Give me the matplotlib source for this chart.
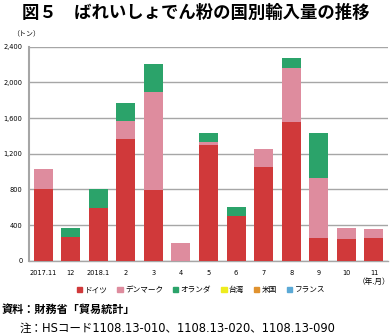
import numpy as np
import matplotlib
matplotlib.use('Agg')
import matplotlib.pyplot as plt
from matplotlib.patches import Patch

plt.rcParams['font.family'] = ['Noto Sans CJK JP', 'DejaVu Sans']

months = ['2017.11', '12', '2018.1', '2', '3', '4', '5', '6', '7', '8', '9', '10', '11']
countries = ['ドイツ', 'デンマーク', 'オランダ', '台湾', '米国', 'フランス']
germany = [805, 265, 590, 1360, 795, 0, 1300, 502, 1055, 1560, 250, 245, 250]
denmark = [225, 0, 0, 205, 1100, 200, 35, 0, 200, 605, 676, 122, 106]
netherlands = [0, 100, 210, 200, 307, 0, 100, 97, 0, 105, 504, 0, 0]
taiwan = [0, 0, 0, 0, 8, 0, 0, 5, 0, 0, 0, 0, 0]
usa = [0] * 13
france = [0] * 13
yticks = [0, 400, 800, 1200, 1600, 2000, 2400]

colors = ['#d0393a', '#de8c9e', '#2ba36a', '#eeec1e', '#e0922f', '#5ba9d6']
series = [germany, denmark, netherlands, taiwan, usa, france]

fig = plt.figure(figsize=(3.91, 3.35), dpi=100)
ax = fig.add_axes([0.075, 0.2218, 0.9166, 0.6388])

x = np.arange(len(months))
bottom = np.zeros(len(months))
for vals, c in zip(series, colors):
    vals = np.array(vals, dtype=float)
    ax.bar(x, vals, 0.69, bottom=bottom, color=c, zorder=3)
    bottom += vals

ax.set_xlim(-0.5, len(months) - 0.5)
ax.set_ylim(0, 2400)
ax.set_yticks(yticks)
ax.set_yticklabels([f'{v:,}' for v in yticks], fontsize=4.8, family='DejaVu Sans')
ax.set_xticks(x)
ax.set_xticklabels(months, fontsize=4.8, family='DejaVu Sans')
ax.tick_params(length=0, pad=5)
ax.tick_params(axis='x', pad=7)
ax.grid(axis='y', color='#a6a6a6', lw=1, zorder=0)
for s in ['top', 'right']:
    ax.spines[s].set_visible(False)
ax.spines['left'].set_color('#a6a6a6')
ax.spines['left'].set_linewidth(1.5)
ax.spines['bottom'].set_color('#a6a6a6')
ax.spines['bottom'].set_linewidth(1)

fig.text(0.5, 0.962, '図５　ばれいしょでん粉の国別輸入量の推移', ha='center', va='center',
         fontsize=12.5, fontweight='bold')
fig.text(0.03, 0.898, '（トン）', ha='left', va='center', fontsize=5)
fig.text(0.998, 0.158, '（年.月）', ha='right', va='center', fontsize=5.5)

handles = [Patch(color=c, label=n) for c, n in zip(colors, countries)]
fig.legend(handles=handles, loc='center', bbox_to_anchor=(0.514, 0.133), ncol=6,
           frameon=False, fontsize=5.5, handlelength=0.7, handleheight=0.7,
           handletextpad=0.3, columnspacing=1.3)

fig.text(0.005, 0.075, '資料：財務省「貿易統計」', ha='left', va='center',
         fontsize=8, fontweight='bold')
fig.text(0.05, 0.021, '注：HSコード1108.13-010、1108.13-020、1108.13-090', ha='left',
         va='center', fontsize=8.3, family=['DejaVu Sans', 'Noto Sans CJK JP'])

fig.savefig('out.png', dpi=100)
